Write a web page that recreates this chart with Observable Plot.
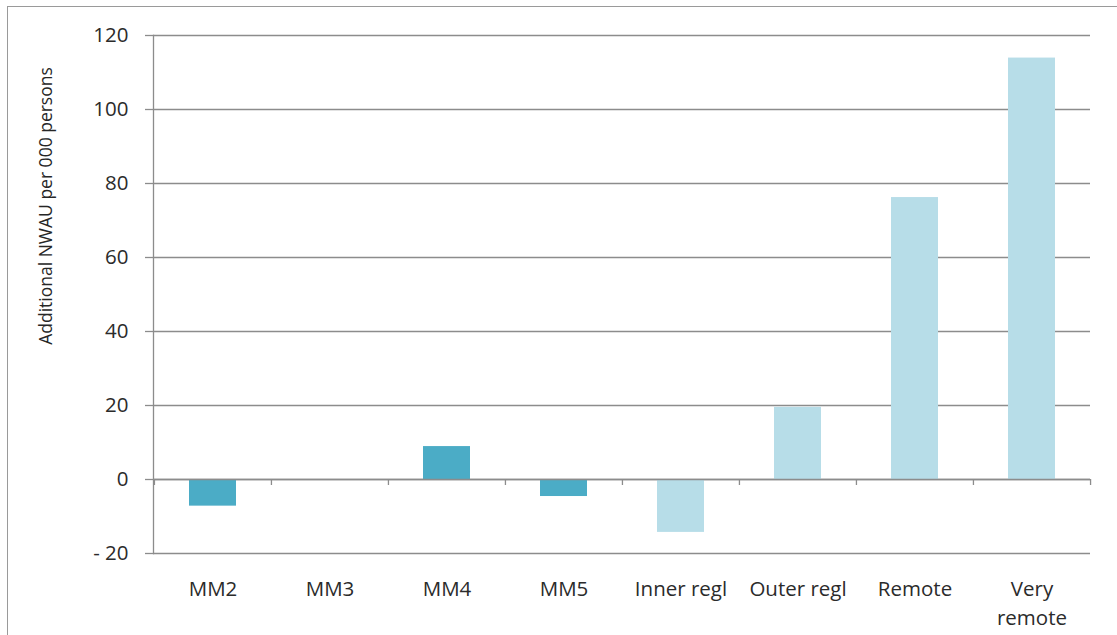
<!DOCTYPE html>
<html>
<head>
<meta charset="utf-8">
<script src="https://cdn.jsdelivr.net/npm/d3@7"></script>
<script src="https://cdn.jsdelivr.net/npm/@observablehq/plot@0.6"></script>
<style>
  html, body { margin: 0; padding: 0; background: #fff; }
  #wrap { position: relative; width: 1117px; height: 635px; overflow: hidden; font-family: "Open Sans", sans-serif; }
  #border { position: absolute; left: 7px; top: 6px; width: 1200px; height: 700px; border-left: 1.5px solid #9a9a9a; border-top: 1.5px solid #9a9a9a; }
  #ylabel { position: absolute; left: 45px; top: 206px; transform: translate(-50%, -50%) rotate(-90deg); white-space: nowrap; font-size: 17.5px; color: #262626; }
  #chart { position: absolute; left: 0; top: 0; }
</style>
</head>
<body>
<div id="wrap">
  <div id="border"></div>
  <div id="chart"></div>
  <div id="ylabel">Additional NWAU per 000 persons</div>
</div>
<script>
const categories = ["MM2", "MM3", "MM4", "MM5", "Inner regl", "Outer regl", "Remote", "Very remote"];
const values = [-7.2, 0, 8.9, -4.6, -14.3, 19.5, 76.2, 113.9];
const groups = ["MM", "MM", "MM", "MM", "Regional", "Regional", "Regional", "Regional"];
const yTicks = [-20, 0, 20, 40, 60, 80, 100, 120];

const data = categories.map((c, i) => ({cat: c, value: values[i], group: groups[i]}));

const W = 1117, H = 635, mL = 153, mR = 27, mT = 35, mB = 82;
const step = (W - mL - mR) / categories.length;
const gridColor = "#8c8c8c";
const textColor = "#2b2b2b";

const chart = Plot.plot({
  width: W,
  height: H,
  marginLeft: mL,
  marginRight: mR,
  marginTop: mT,
  marginBottom: mB,
  style: {fontFamily: "'Open Sans', sans-serif", fontSize: "20.5px", color: textColor, background: "transparent"},
  x: {domain: categories, padding: 0, label: null},
  y: {domain: [-20, 120], label: null},
  color: {domain: ["MM", "Regional"], range: ["#4bacc6", "#b7dde8"]},
  marks: [
    Plot.gridY(yTicks, {stroke: gridColor, strokeOpacity: 1, strokeWidth: 1.3}),
    Plot.barY(data, {x: "cat", y: "value", fill: "group", insetLeft: 35, insetRight: 35}),
    Plot.ruleY([0], {stroke: gridColor, strokeWidth: 1.3}),
    Plot.ruleX(categories, {x: d => d, y1: 0, y2: -6 / 3.7, dx: -step / 2, stroke: gridColor, strokeWidth: 1.3}),
    Plot.ruleX([categories[categories.length - 1]], {x: d => d, y1: 0, y2: -6 / 3.7, dx: step / 2, stroke: gridColor, strokeWidth: 1.3}),
    Plot.frame({anchor: "left", stroke: gridColor, strokeWidth: 1.3}),
    Plot.axisY(yTicks, {
      tickSize: 8, tickPadding: 17, stroke: gridColor, strokeWidth: 1.3,
      tickFormat: d => d < 0 ? "- " + Math.abs(d) : String(d),
      fontSize: 20.5, fill: textColor, label: null
    }),
    Plot.axisX({
      tickSize: 0, tickPadding: 21,
      tickFormat: d => d === "Very remote" ? "Very\nremote" : d,
      fontSize: 20.5, fill: textColor, lineHeight: 1.45, label: null
    })
  ]
});
document.getElementById("chart").appendChild(chart);
</script>
</body>
</html>
